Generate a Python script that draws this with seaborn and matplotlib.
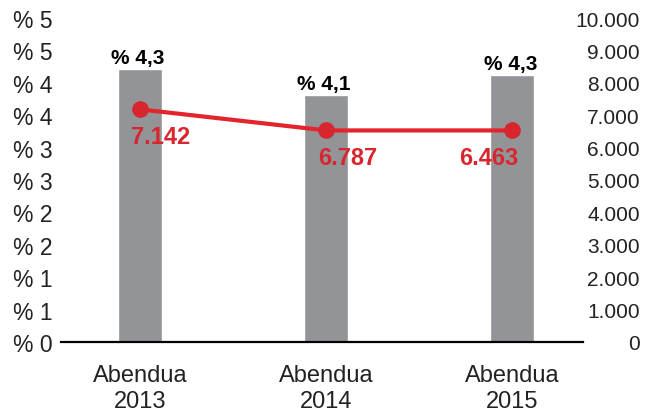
import matplotlib
matplotlib.use('Agg')
import matplotlib.pyplot as plt
import seaborn as sns
import pandas as pd

# datuak
urteak = ['Abendua\n2013', 'Abendua\n2014', 'Abendua\n2015']
ehunekoa = [4.21, 3.81, 4.12]          # barra altuerak (ezkerreko ardatza)
ehuneko_testua = ['% 4,3', '% 4,1', '% 4,3']
kopurua = [7180, 6530, 6530]           # lerroaren puntuak (eskuineko ardatza)
kopuru_testua = ['7.142', '6.787', '6.463']
ezker_ticks = [0, 0.5, 1, 1.5, 2, 2.5, 3, 3.5, 4, 4.5, 5]
ezker_labels = ['% 0', '% 1', '% 1', '% 2', '% 2', '% 3', '% 3', '% 4', '% 4', '% 5', '% 5']
eskuin_ticks = [0, 1000, 2000, 3000, 4000, 5000, 6000, 7000, 8000, 9000, 10000]
eskuin_labels = ['0', '1.000', '2.000', '3.000', '4.000', '5.000', '6.000',
                 '7.000', '8.000', '9.000', '10.000']

sns.set_style('white')
plt.rcParams['font.family'] = ['Liberation Sans', 'DejaVu Sans']

gris = '#939498'
gorri = '#e3242b'
gorri_testu = '#d8262f'

fig = plt.figure(figsize=(6.51, 4.14), dpi=100)
ax = fig.add_axes([61 / 651, 1 - 343 / 414, (583 - 61) / 651, (343 - 19) / 414])

df = pd.DataFrame({'urtea': urteak, 'ehunekoa': ehunekoa})
sns.barplot(data=df, x='urtea', y='ehunekoa', color=gris, width=0.237,
            saturation=1, ax=ax)
ax.set_xlim(-0.425, 2.38)
ax.set_ylim(0, 5)
ax.set_yticks(ezker_ticks)
ax.set_yticklabels(ezker_labels, fontsize=16.5, color='#222222')
ax.tick_params(axis='y', length=0, pad=6)
ax.tick_params(axis='x', length=0, pad=16, labelsize=17, labelcolor='#222222')
for lbl in ax.get_xticklabels():
    lbl.set_linespacing(1.2)
ax.set_xlabel(None)
ax.set_ylabel(None)
for s in ['left', 'right', 'top']:
    ax.spines[s].set_visible(False)
ax.spines['bottom'].set_color('black')
ax.spines['bottom'].set_linewidth(1.6)

for i, t in enumerate(ehuneko_testua):
    ax.annotate(t, (i, ehunekoa[i]), xytext=(-2, 12), textcoords='offset pixels',
                ha='center', va='center', fontsize=15, fontweight='bold', color='black')

ax2 = ax.twinx()
sns.lineplot(x=[0, 1, 2], y=kopurua, color=gorri, linewidth=3, marker='o',
             markersize=12, markeredgewidth=0, markerfacecolor=gorri_testu, ax=ax2)
ax2.set_ylim(0, 10000)
ax2.set_yticks(eskuin_ticks)
ax2.set_yticklabels(eskuin_labels, fontsize=15, color='#222222', ha='right')
ax2.tick_params(axis='y', length=0, pad=41)
for s in ['left', 'right', 'top', 'bottom']:
    ax2.spines[s].set_visible(False)

dx = [21, 22, -24]
for i, t in enumerate(kopuru_testua):
    ax2.annotate(t, (i, kopurua[i]), xytext=(dx[i], -27), textcoords='offset pixels',
                 ha='center', va='center', fontsize=17, fontweight='bold', color=gorri_testu)

fig.savefig('out.png', dpi=100)
